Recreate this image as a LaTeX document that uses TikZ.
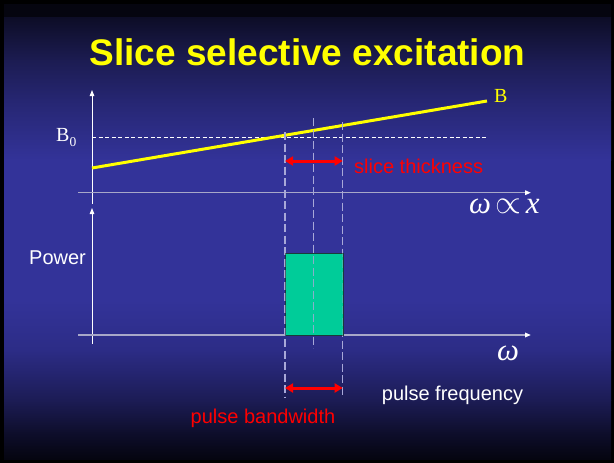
\documentclass[tikz,border=0pt]{standalone}
\usepackage{fontspec}
\setmainfont{Liberation Sans}
\newfontfamily\tms{Liberation Serif}
\usetikzlibrary{arrows.meta}
\definecolor{bgA}{HTML}{05050F}
\definecolor{bgB}{HTML}{0D0D26}
\definecolor{bgC}{HTML}{1C1C52}
\definecolor{bgD}{HTML}{262672}
\definecolor{bgE}{HTML}{333399}
\definecolor{bgF}{HTML}{2C2C86}
\definecolor{bgG}{HTML}{1C1C55}
\definecolor{bgH}{HTML}{0E0E2C}
\definecolor{bgI}{HTML}{050510}
\definecolor{dashcol}{HTML}{A8A8D8}
\definecolor{axiscol}{HTML}{A8A8C8}
\definecolor{greenbox}{HTML}{00CC99}
\definecolor{boxedge}{HTML}{1A3A3A}
\definecolor{redtxt}{HTML}{FF0000}
\definecolor{yel}{HTML}{FFFF00}
\tikzset{
  vaxis/.style={white, line width=1pt, -{Triangle[length=6pt,width=4.5pt]}},
  haxis/.style={axiscol, line width=1.5pt, -{Triangle[length=6pt,width=4.5pt,color=white]}},
  guide/.style={dashcol, line width=1.5pt, dash pattern=on 8pt off 3.5pt},
  levelline/.style={white, line width=0.9pt, dash pattern=on 4pt off 2.5pt},
  redarrow/.style={redtxt, line width=3pt, {Triangle[length=8pt,width=9pt]}-{Triangle[length=8pt,width=9pt]}},
  lbl/.style={inner sep=0pt, font=\fontsize{20}{22}\selectfont},
  mathlbl/.style={inner sep=0pt, anchor=base west, text=white, font=\tms\itshape\fontsize{31}{33}\selectfont},
}
\begin{document}
\begin{tikzpicture}[x=1pt,y=-1pt]
\useasboundingbox (0,0) rectangle (614,463);
% frame and background
\fill[black] (0,0) rectangle (614,463);
\shade[top color=bgA, bottom color=bgA] (4,4) rectangle (611,17.5);
\shade[top color=bgB, bottom color=bgC] (4,17) rectangle (611,60.5);
\shade[top color=bgC, bottom color=bgD] (4,60) rectangle (611,100.5);
\shade[top color=bgD, bottom color=bgE] (4,100) rectangle (611,160.5);
\fill[bgE] (4,160) rectangle (611,300.5);
\shade[top color=bgE, bottom color=bgF] (4,300) rectangle (611,350.5);
\shade[top color=bgF, bottom color=bgG] (4,350) rectangle (611,400.5);
\shade[top color=bgG, bottom color=bgH] (4,400) rectangle (611,432.5);
\shade[top color=bgH, bottom color=bgI] (4,432) rectangle (611,459);

% title
\node[inner sep=0pt, text=yel, font=\fontsize{37}{40}\selectfont\bfseries] (title) at (307.5,52) {Slice selective excitation};

% coordinates
\coordinate (tvb) at (92,204);
\coordinate (tvt) at (92,90);
\coordinate (thl) at (78,192.7);
\coordinate (thr) at (531,192.7);
\coordinate (bvb) at (92,344);
\coordinate (bvt) at (92,208);
\coordinate (bhl) at (78,335);
\coordinate (bhr) at (531,335);
\coordinate (lvl0) at (92,137.3);
\coordinate (lvl1) at (488,137.3);
\coordinate (ys) at (92,168);
\coordinate (ye) at (487,101);
\coordinate (g1t) at (285,132);
\coordinate (g1b) at (285,397);
\coordinate (g2t) at (313.7,118);
\coordinate (g2b) at (313.7,348);
\coordinate (g3t) at (342.7,122);
\coordinate (g3b) at (342.7,397);
\coordinate (r1l) at (285,161);
\coordinate (r1r) at (342.7,161);
\coordinate (r2l) at (285,388);
\coordinate (r2r) at (342.7,388);

% axes
\draw[vaxis] (tvb) -- (tvt);
\draw[haxis] (thl) -- (thr);
\draw[vaxis] (bvb) -- (bvt);
\draw[haxis] (bhl) -- (bhr);

% B0 level and field line
\draw[levelline] (lvl0) -- (lvl1);
\draw[yel, line width=3pt] (ys) -- (ye);

% guides
\draw[guide] (g1t) -- (g1b);
\draw[guide] (g3t) -- (g3b);
\draw[guide] (g2t) -- (g2b);

% pulse box
\node[draw=boxedge, fill=greenbox, line width=1pt, inner sep=0pt, minimum width=57.7pt, minimum height=82.3pt, anchor=north west] (box) at (285,252.7) {};
\draw[guide, opacity=0.8] (g2t) -- (g2b);
\draw[guide, opacity=0.35] (g1t) -- (g1b);
\draw[guide, opacity=0.35] (g3t) -- (g3b);

% red arrows
\draw[redarrow] (r1l) -- (r1r);
\draw[redarrow] (r2l) -- (r2r);

% labels
\node[inner sep=0pt, anchor=base west, text=yel, font=\tms\fontsize{20}{22}\selectfont] (blab) at (494,102.7) {B};
\node[inner sep=0pt, anchor=base west, text=white, font=\tms\fontsize{20}{22}\selectfont] (b0lab) at (56,141.7) {B\raisebox{-4.3pt}{\fontsize{13.5}{14}\selectfont 0}};
\node[lbl, anchor=west, text=redtxt] (slice) at (354,166) {slice thickness};
\node[mathlbl] (wx) at (469,213) {ω\kern4pt{\fontsize{20}{22}\selectfont\scalebox{1.6}{$\propto$}}\kern5pt x};
\node[lbl, anchor=west, text=white] (power) at (29,258) {Power};
\node[mathlbl] (w) at (497,360) {ω};
\node[lbl, anchor=west, text=white] (pf) at (381.7,395) {pulse frequency};
\node[lbl, anchor=center, text=redtxt] (pb) at (263,418) {pulse bandwidth};
\end{tikzpicture}
\end{document}
